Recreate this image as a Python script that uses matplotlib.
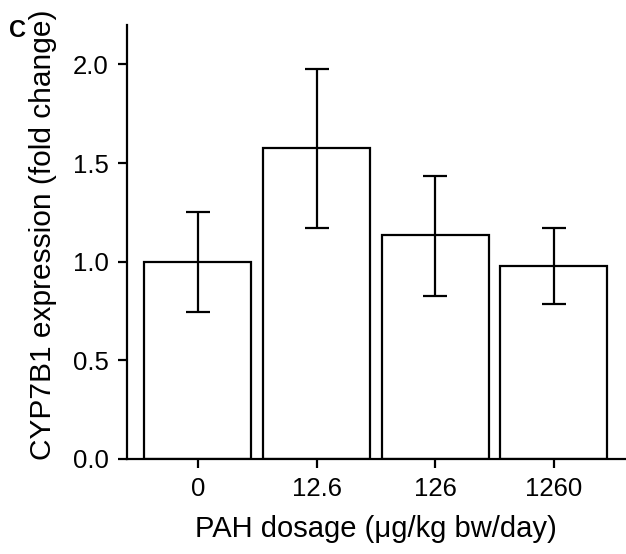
import matplotlib
matplotlib.use('Agg')
import matplotlib.pyplot as plt
import numpy as np

plt.rcParams['font.family'] = ['Liberation Sans', 'DejaVu Sans']

# data
doses = ['0', '12.6', '126', '1260']
fold_change = [1.00, 1.575, 1.133, 0.978]
err_low = [0.253, 0.402, 0.305, 0.19]
err_high = [0.25, 0.40, 0.302, 0.195]
y_ticks = [0.0, 0.5, 1.0, 1.5, 2.0]

fig = plt.figure(figsize=(6.26, 5.54), dpi=100)
ax = fig.add_axes([0.2024, 0.1715, 0.796, 0.7835])

x = np.arange(len(doses))
ax.bar(x, fold_change, width=0.9, color='white', edgecolor='black', linewidth=1.6, zorder=2)
ax.errorbar(x, fold_change, yerr=[err_low, err_high], fmt='none', ecolor='black',
            elinewidth=1.6, capsize=8.6, capthick=1.6, zorder=3)

ax.set_xlim(-0.6, 3.6)
ax.set_ylim(0, 2.2)
ax.set_xticks(x)
ax.set_xticklabels(doses)
ax.set_yticks(y_ticks)
ax.set_yticklabels([f'{t:.1f}' for t in y_ticks])

for s in ['top', 'right']:
    ax.spines[s].set_visible(False)
for s in ['left', 'bottom']:
    ax.spines[s].set_linewidth(1.6)

ax.tick_params(axis='both', labelsize=18.5, width=1.6, length=6.5, color='black')
ax.tick_params(axis='x', pad=6.5)
ax.tick_params(axis='y', pad=6.5)
ax.set_xlabel('PAH dosage (\u03bcg/kg bw/day)', fontsize=21)
ax.set_ylabel('CYP7B1 expression (fold change)', fontsize=21.5)
ax.xaxis.set_label_coords(0.5, -0.128)
ax.yaxis.set_label_coords(-0.14, 0.516)

fig.text(0.014, 0.933, 'C', fontsize=17, fontweight='bold', ha='left', va='baseline')

fig.savefig('out.png', dpi=100)
